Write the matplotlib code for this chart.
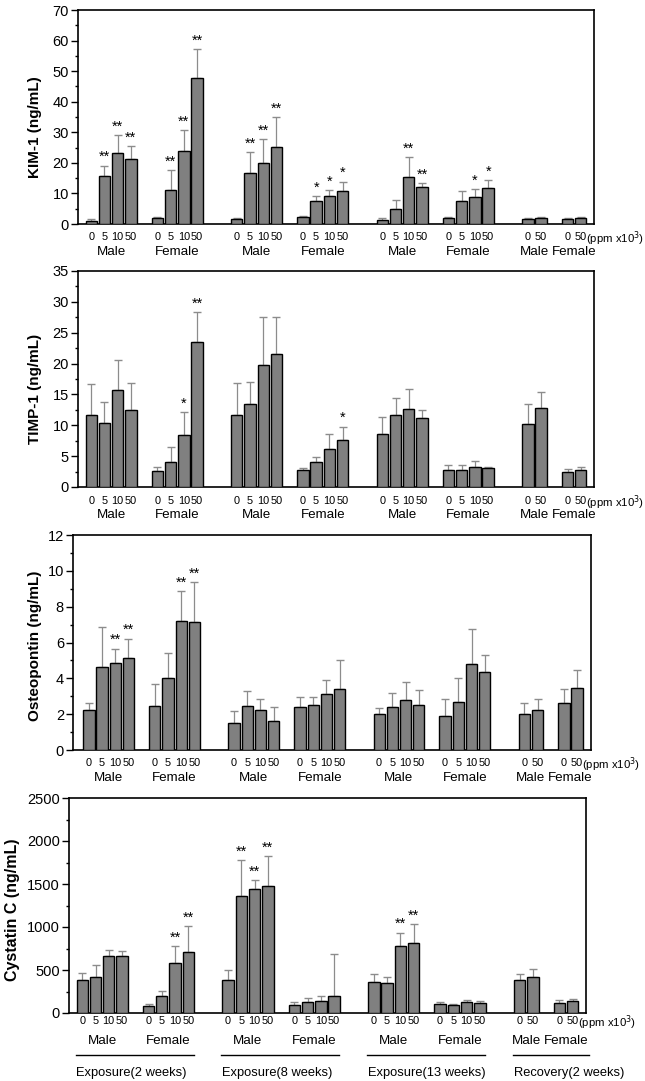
import matplotlib
matplotlib.use('Agg')
import matplotlib.pyplot as plt
from matplotlib.ticker import MultipleLocator
from matplotlib.transforms import blended_transform_factory

plt.rcParams['font.family'] = ['Liberation Sans', 'DejaVu Sans']

periods = ['Exposure(2 weeks)', 'Exposure(8 weeks)', 'Exposure(13 weeks)', 'Recovery(2 weeks)']
sexes = ['Male', 'Female']
doses_exp = ['0', '5', '10', '50']
doses_rec = ['0', '50']

# mean values and upper SD, order: period -> sex -> dose
kim_mean = [1.1, 15.8, 23.3, 21.2, 2.0, 11.1, 23.9, 47.8,
            1.5, 16.8, 20.1, 25.3, 2.2, 7.4, 9.0, 10.7,
            1.4, 4.9, 15.5, 12.1, 1.8, 7.5, 8.9, 11.8,
            1.7, 2.0, 1.6, 1.8]
kim_sd = [0.4, 3.3, 5.7, 4.3, 0.2, 6.5, 6.9, 9.5,
          0.3, 6.6, 7.6, 9.8, 0.3, 1.7, 2.0, 3.2,
          0.7, 2.9, 6.3, 1.3, 0.4, 3.2, 2.4, 2.7,
          0.4, 0.2, 0.2, 0.4]
kim_sig = ['', '**', '**', '**', '', '**', '**', '**',
           '', '**', '**', '**', '', '*', '*', '*',
           '', '', '**', '**', '', '', '*', '*',
           '', '', '', '']

timp_mean = [11.7, 10.4, 15.7, 12.4, 2.6, 4.1, 8.5, 23.5,
             11.6, 13.5, 19.8, 21.5, 2.7, 4.0, 6.1, 7.6,
             8.6, 11.6, 12.6, 11.2, 2.7, 2.7, 3.3, 3.0,
             10.2, 12.8, 2.5, 2.8]
timp_sd = [5.0, 3.3, 4.9, 4.4, 0.7, 2.4, 3.6, 4.9,
           5.2, 3.5, 7.8, 6.1, 0.4, 0.9, 2.5, 2.2,
           2.8, 2.8, 3.3, 1.3, 0.9, 0.9, 0.9, 0.3,
           3.2, 2.6, 0.4, 0.5]
timp_sig = ['', '', '', '', '', '', '*', '**',
            '', '', '', '', '', '', '', '*',
            '', '', '', '', '', '', '', '',
            '', '', '', '']

opn_mean = [2.25, 4.65, 4.86, 5.12, 2.48, 4.0, 7.2, 7.13,
            1.53, 2.46, 2.25, 1.64, 2.42, 2.5, 3.15, 3.39,
            2.03, 2.4, 2.81, 2.53, 1.9, 2.68, 4.82, 4.36,
            2.03, 2.22, 2.63, 3.46]
opn_sd = [0.35, 2.2, 0.8, 1.1, 1.22, 1.42, 1.68, 2.24,
          0.67, 0.82, 0.62, 0.76, 0.56, 0.48, 0.76, 1.66,
          0.3, 0.78, 0.99, 0.82, 0.93, 1.36, 1.96, 0.93,
          0.6, 0.65, 0.78, 1.03]
opn_sig = ['', '', '**', '**', '', '', '**', '**',
           '', '', '', '', '', '', '', '',
           '', '', '', '', '', '', '', '',
           '', '', '', '']

cys_mean = [384, 419, 668, 660, 85, 194, 586, 715,
            381, 1359, 1437, 1480, 89, 124, 144, 194,
            361, 346, 784, 812, 105, 89, 128, 120,
            388, 423, 113, 136]
cys_sd = [86, 140, 70, 62, 24, 58, 195, 295,
          124, 420, 113, 349, 35, 47, 50, 497,
          93, 77, 152, 225, 23, 20, 27, 24,
          66, 90, 42, 27]
cys_sig = ['', '', '', '', '', '', '**', '**',
           '', '**', '**', '**', '', '', '', '',
           '', '', '**', '**', '', '', '', '',
           '', '', '', '']

# bar layout: one slot between sexes, two between periods
pos, labels, groups, period_span = [], [], [], []
x = 0
for p in range(len(periods)):
    doses = doses_exp if p < 3 else doses_rec
    first = x
    for s in sexes:
        g = [x + i for i in range(len(doses))]
        pos += g
        labels += doses
        groups.append((s, sum(g) / len(g)))
        x += len(doses) + 1
    period_span.append((first, x - 2))
    x += 1

panels = [
    (kim_mean, kim_sd, kim_sig, 'KIM-1 (ng/mL)', 70, 10, 5,
     [78, 10, 594, 224], (-1.0, 38.0), (-0.070, 0.453), 6.0, 11),
    (timp_mean, timp_sd, timp_sig, 'TIMP-1 (ng/mL)', 35, 5, 2.5,
     [78, 271, 594, 487], (-1.0, 38.0), (-0.070, 0.454), 6.5, 11),
    (opn_mean, opn_sd, opn_sig, 'Osteopontin (ng/mL)', 12, 2, 1,
     [73, 535, 591, 750], (-1.2, 38.05), (-0.060, 0.484), 6.0, 11),
    (cys_mean, cys_sd, cys_sig, 'Cystatin C (ng/mL)', 2500, 500, 250,
     [69, 798, 586, 1013], (-1.0, 38.0), (-0.095, 0.479), 2.5, 11.5),
]

W, H = 645, 1081
fig = plt.figure(figsize=(6.45, 10.81), dpi=100)

for k, (mean, sd, sig, ylab, ymax, major, minor, box, xlim, labpos, pad, labsize) in enumerate(panels):
    l, t, r, b = box
    ax = fig.add_axes([l / W, 1 - b / H, (r - l) / W, (b - t) / H])
    ax.bar(pos, mean, width=0.86, color='#808080', edgecolor='black', linewidth=1.0, zorder=3)
    eb = ax.errorbar(pos, mean, yerr=[[0] * len(sd), sd], fmt='none', ecolor='#8c8c8c',
                     elinewidth=0.9, capsize=2.6, capthick=1.0, zorder=2)
    for cap in eb[1]:
        cap.set_color('#505050')
    for xi, m, e, s in zip(pos, mean, sd, sig):
        if s:
            ax.annotate(s, (xi, m + e), xytext=(0, 6), textcoords='offset points',
                        ha='center', va='center', fontsize=10.5)
    ax.set_xlim(*xlim)
    ax.set_ylim(0, ymax)
    ax.yaxis.set_major_locator(MultipleLocator(major))
    ax.yaxis.set_minor_locator(MultipleLocator(minor))
    ax.tick_params(axis='y', which='major', direction='out', length=5, width=1, labelsize=10.5, pad=1.5)
    ax.tick_params(axis='y', which='minor', direction='out', length=2.5, width=1)
    ax.set_xticks(pos, labels)
    ax.tick_params(axis='x', length=0, labelsize=7.9, pad=pad)
    for sp in ax.spines.values():
        sp.set_linewidth(1.2)
    ax.set_ylabel(ylab, fontsize=labsize, fontweight='bold')
    ax.yaxis.set_label_coords(*labpos)

    trans = blended_transform_factory(ax.transData, ax.transAxes)
    for name, cx in groups:
        ax.annotate(name, (cx, 0), xycoords=trans, xytext=(0, -20), textcoords='offset points',
                    ha='center', va='center', fontsize=9.6)
    ax.annotate('(ppm x10$^3$)', (pos[-1] + 0.4, 0), xycoords=trans,
                xytext=(0, -pad - 4.5), textcoords='offset points',
                ha='left', va='center', fontsize=8.2)

    if k == 3:
        for name, (x0, x1) in zip(periods, period_span):
            x0, x1 = x0 - 0.5, x1 + 0.4
            if name.startswith('Recovery'):
                x1 = xlim[1] + 0.2
            ax.plot([x0, x1], [-0.195, -0.195], transform=trans, color='black',
                    linewidth=1.0, clip_on=False)
            ax.text(x0 + 0.05, -0.28, name, transform=trans, ha='left',
                    va='center', fontsize=9.3)

fig.savefig('out.png', dpi=100)
